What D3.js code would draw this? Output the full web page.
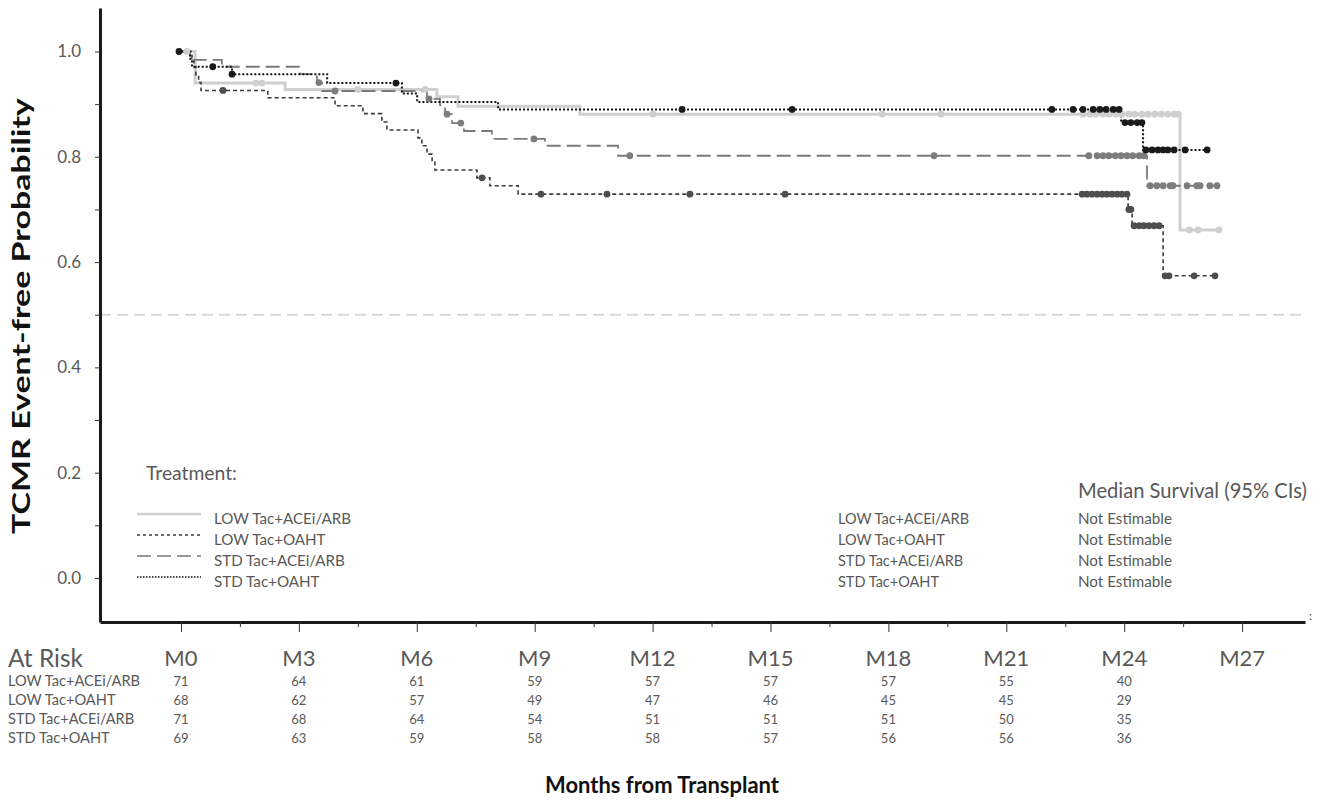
<!DOCTYPE html>
<html><head><meta charset="utf-8">
<script src="https://cdn.jsdelivr.net/npm/d3@7"></script>
<style>body{margin:0;background:#fff}text{font-family:Lato,"Open Sans",sans-serif}</style>
</head><body><svg id="c" width="1322" height="801"></svg>
<script>
// ---------------- DATA ----------------
const groups = ["LOW Tac+ACEi/ARB", "LOW Tac+OAHT", "STD Tac+ACEi/ARB", "STD Tac+OAHT"];
const medianSurvival = ["Not Estimable", "Not Estimable", "Not Estimable", "Not Estimable"];

// Kaplan-Meier steps: [month, survival after step]
const lowAceSteps = [[0,1],[0.36,0.940],[2.65,0.928],[6.51,0.914],[7.05,0.896],[10.15,0.881],[25.42,0.661]];
const lowAceEnd = 26.41;
const lowAceCensor = [[0.15,1],[1.91,0.940],[2.06,0.940],[4.50,0.928],[6.21,0.928],[12.01,0.881],[17.84,0.881],[19.34,0.881],
  [22.95,0.881],[23.13,0.881],[23.28,0.881],[23.46,0.881],[23.61,0.881],[23.79,0.881],[23.94,0.881],[24.12,0.881],
  [24.27,0.881],[24.45,0.881],[24.61,0.881],[24.78,0.881],[24.94,0.881],[25.11,0.881],[25.27,0.881],[25.37,0.881],
  [25.66,0.661],[25.88,0.661],[26.41,0.661]];

const lowOahtSteps = [[0,1],[0.28,0.985],[0.33,0.971],[0.38,0.956],[0.45,0.941],[0.51,0.926],[2.21,0.912],[3.92,0.897],
  [4.63,0.882],[5.11,0.866],[5.24,0.851],[6.03,0.836],[6.13,0.821],[6.26,0.805],[6.39,0.790],[6.46,0.775],[7.53,0.760],
  [7.86,0.745],[8.58,0.729],[24.10,0.700],[24.20,0.669],[24.99,0.574]];
const lowOahtEnd = 26.31;
const lowOahtCensor = [[1.07,0.926],[7.66,0.760],[9.16,0.729],[10.84,0.729],[12.95,0.729],[15.37,0.729],
  [22.93,0.729],[23.05,0.729],[23.18,0.729],[23.31,0.729],[23.44,0.729],[23.56,0.729],[23.69,0.729],[23.82,0.729],
  [23.94,0.729],[24.07,0.729],[24.12,0.700],[24.17,0.700],
  [24.25,0.669],[24.38,0.669],[24.50,0.669],[24.63,0.669],[24.76,0.669],[24.89,0.669],
  [25.04,0.574],[25.14,0.574],[25.78,0.574],[26.31,0.574]];

const stdAceSteps = [[0,1],[0.23,0.984],[1.04,0.971],[3.03,0.957],[3.46,0.941],[3.59,0.925],[6.26,0.910],[6.59,0.898],
  [6.72,0.881],[6.90,0.864],[7.20,0.849],[7.91,0.834],[9.26,0.821],[11.12,0.802],[24.58,0.745]];
const stdAceEnd = 26.44;
const stdAceCensor = [[3.51,0.941],[3.92,0.925],[6.31,0.910],[6.77,0.881],[7.12,0.864],[8.98,0.834],[11.42,0.802],[19.16,0.802],
  [23.10,0.802],[23.31,0.802],[23.46,0.802],[23.61,0.802],[23.77,0.802],[23.92,0.802],[24.07,0.802],[24.22,0.802],
  [24.38,0.802],[24.50,0.802],
  [24.66,0.745],[24.83,0.745],[24.99,0.745],[25.17,0.745],[25.24,0.745],[25.60,0.745],[25.85,0.745],[25.93,0.745],
  [26.18,0.745],[26.36,0.745]];

const stdOahtSteps = [[0,1],[0.23,0.986],[0.28,0.971],[1.30,0.957],[3.72,0.940],[5.62,0.920],[6.01,0.904],[8.07,0.890],
  [23.92,0.865],[24.48,0.813]];
const stdOahtEnd = 26.11;
const stdOahtCensor = [[-0.05,1],[0.81,0.971],[1.30,0.957],[5.47,0.940],[12.75,0.890],[15.55,0.890],[22.16,0.890],
  [22.70,0.890],[22.95,0.890],[23.21,0.890],[23.38,0.890],[23.54,0.890],[23.72,0.890],[23.87,0.890],
  [24.02,0.865],[24.17,0.865],[24.33,0.865],[24.45,0.865],
  [24.55,0.813],[24.71,0.813],[24.86,0.813],[24.99,0.813],[25.11,0.813],[25.27,0.813],[25.55,0.813],[26.11,0.813]];

const yTickValues = [0, 0.2, 0.4, 0.6, 0.8, 1.0];
const xTickMonths = [0, 3, 6, 9, 12, 15, 18, 21, 24, 27];
const xTickLabels = ["M0","M3","M6","M9","M12","M15","M18","M21","M24","M27"];
const atRiskMonths = [0, 3, 6, 9, 12, 15, 18, 21, 24];
const atRiskLowAce  = [71, 64, 61, 59, 57, 57, 57, 55, 40];
const atRiskLowOaht = [68, 62, 57, 49, 47, 46, 45, 45, 29];
const atRiskStdAce  = [71, 68, 64, 54, 51, 51, 51, 50, 35];
const atRiskStdOaht = [69, 63, 59, 58, 58, 57, 56, 56, 36];

// ---------------- STYLE ----------------
const styles = [
  {line:"#cfcfcf", dot:"#cfcfcf", width:3,   dash:null,   legDash:null,    legW:2.5},
  {line:"#3c3c3c", dot:"#4e4e4e", width:1.6, dash:"4,3",  legDash:"3,3",   legW:1.5},
  {line:"#7a7a7a", dot:"#7d7d7d", width:1.8, dash:"14,6", legDash:"14,6",  legW:1.5},
  {line:"#111111", dot:"#1a1a1a", width:2,   dash:"2,2",  legDash:"1.5,1.5", legW:1.5}
];
const series = [
  {steps:lowAceSteps, end:lowAceEnd, censor:lowAceCensor},
  {steps:lowOahtSteps, end:lowOahtEnd, censor:lowOahtCensor},
  {steps:stdAceSteps, end:stdAceEnd, censor:stdAceCensor},
  {steps:stdOahtSteps, end:stdOahtEnd, censor:stdOahtCensor}
];
const atRisk = [atRiskLowAce, atRiskLowOaht, atRiskStdAce, atRiskStdOaht];
const txt = "#595959";

const svg = d3.select("#c");
svg.append("rect").attr("width",1322).attr("height",801).attr("fill","#fff");

const x = d3.scaleLinear().domain([-2.06, 28.6]).range([100, 1305]);
const y = d3.scaleLinear().domain([-0.0836, 1.0826]).range([622, 8]);

// returns font size that makes text `str` `target` px wide
function fitSize(str, target, base, weight) {
  const t = svg.append("text").attr("font-size", base).attr("font-weight", weight || "normal").text(str);
  const w = t.node().getComputedTextLength(); t.remove();
  return +(base * target / w).toFixed(2);
}

// reference line at 0.5
svg.append("line").attr("x1", x.range()[0]).attr("x2", x.range()[1])
  .attr("y1", y(0.5)).attr("y2", y(0.5))
  .attr("stroke", "#d9d9d9").attr("stroke-width", 2).attr("stroke-dasharray", "11,6");

// curves
const line = d3.line().x(d => x(d[0])).y(d => y(d[1])).curve(d3.curveStepAfter);
series.forEach((s, i) => {
  const pts = s.steps.concat([[s.end, s.steps[s.steps.length-1][1]]]);
  const st = styles[i];
  svg.append("path").attr("d", line(pts)).attr("fill","none")
    .attr("stroke", st.line).attr("stroke-width", st.width)
    .attr("stroke-dasharray", st.dash);
});
series.forEach((s, i) => {
  svg.append("g").selectAll("circle").data(s.censor).join("circle")
    .attr("cx", d => x(d[0])).attr("cy", d => y(d[1])).attr("r", 3.4)
    .attr("fill", styles[i].dot);
});

// y axis
const yAxis = d3.axisLeft(y).tickValues(d3.range(0, 1.05, 0.1)).tickSize(5).tickSizeOuter(0).tickPadding(14)
  .tickFormat(d => yTickValues.some(v => Math.abs(v - d) < 1e-6) ? d3.format(".1f")(d) : "");
const gy = svg.append("g").attr("transform", "translate(100,0)").call(yAxis);
gy.select(".domain").attr("stroke", "#1a1a1a").attr("stroke-width", 3);
gy.selectAll(".tick line").attr("stroke", "#333").attr("stroke-width", 1);
gy.selectAll(".tick text").attr("font-size", 17).attr("fill", txt).attr("font-family", "Lato");

// x axis
const xAxis = d3.axisBottom(x).tickValues(d3.range(0, 27.01, 1.5)).tickSize(10).tickSizeOuter(0).tickFormat("");
const gx = svg.append("g").attr("transform", "translate(0,622)").call(xAxis);
gx.select(".domain").attr("stroke", "#1a1a1a").attr("stroke-width", 3);
gx.selectAll(".tick line").attr("stroke", "#333").attr("stroke-width", 1)
  .attr("y2", d => (Math.round(d * 2) % 6 === 0) ? 10 : 5);
svg.append("text").attr("x", 1309).attr("y", 620).attr("font-size", 12).attr("fill", "#333").text(":");

// axis titles
svg.append("text").attr("transform", "translate(30,316) rotate(-90)").attr("text-anchor", "middle")
  .attr("font-weight", "bold").attr("font-size", 24).attr("fill", "#111")
  .attr("textLength", 436).attr("lengthAdjust", "spacingAndGlyphs").text("TCMR Event-free Probability");
svg.append("text").attr("x", 662).attr("y", 793).attr("text-anchor", "middle")
  .attr("font-weight", "bold").attr("font-size", fitSize("Months from Transplant", 234, 20, "bold"))
  .attr("fill", "#111").text("Months from Transplant");

// legend
svg.append("text").attr("x", 146).attr("y", 480).attr("font-size", fitSize("Treatment:", 91, 17))
  .attr("fill", txt).text("Treatment:");
const legRows = [519, 540, 561, 582];
const fsLeg = fitSize(groups[0], 137, 14);
const fsMed = fitSize(groups[0], 131, 14);
const fsNE = fitSize(medianSurvival[0], 94, 14);
groups.forEach((g, i) => {
  const st = styles[i];
  svg.append("line").attr("x1", 137).attr("x2", 201).attr("y1", legRows[i] - 5).attr("y2", legRows[i] - 5)
    .attr("stroke", st.line).attr("stroke-width", st.legW).attr("stroke-dasharray", st.legDash);
  svg.append("text").attr("x", 214).attr("y", legRows[i]).attr("dy", "0.35em").attr("font-size", fsLeg)
    .attr("fill", txt).text(g);
  svg.append("text").attr("x", 838).attr("y", legRows[i]).attr("dy", "0.35em").attr("font-size", fsMed)
    .attr("fill", txt).text(g);
  svg.append("text").attr("x", 1078).attr("y", legRows[i]).attr("dy", "0.35em").attr("font-size", fsNE)
    .attr("fill", txt).text(medianSurvival[i]);
});
svg.append("text").attr("x", 1078).attr("y", 491).attr("dy", "0.35em")
  .attr("font-size", fitSize("Median Survival (95% CIs)", 229, 17))
  .attr("fill", txt).text("Median Survival (95% CIs)");

// at-risk table
svg.append("text").attr("x", 8).attr("y", 658).attr("dy", "0.35em").attr("font-size", fitSize("At Risk", 75, 22))
  .attr("fill", txt).text("At Risk");
svg.append("g").selectAll("text").data(xTickMonths).join("text")
  .attr("x", d => x(d)).attr("y", 658).attr("dy", "0.35em").attr("text-anchor", "middle")
  .attr("font-size", 22).attr("fill", txt).text((d, i) => xTickLabels[i]);
const rowY = [681, 700, 719, 738];
const fsRow = fitSize(groups[0], 132, 13);
groups.forEach((g, i) => {
  svg.append("text").attr("x", 8).attr("y", rowY[i]).attr("dy", "0.35em").attr("font-size", fsRow)
    .attr("fill", txt).text(g);
  svg.append("g").selectAll("text").data(atRiskMonths).join("text")
    .attr("x", d => x(d)).attr("y", rowY[i]).attr("dy", "0.35em").attr("text-anchor", "middle")
    .attr("font-size", 13).attr("fill", txt).text((d, j) => atRisk[i][j]);
});
</script></body></html>
